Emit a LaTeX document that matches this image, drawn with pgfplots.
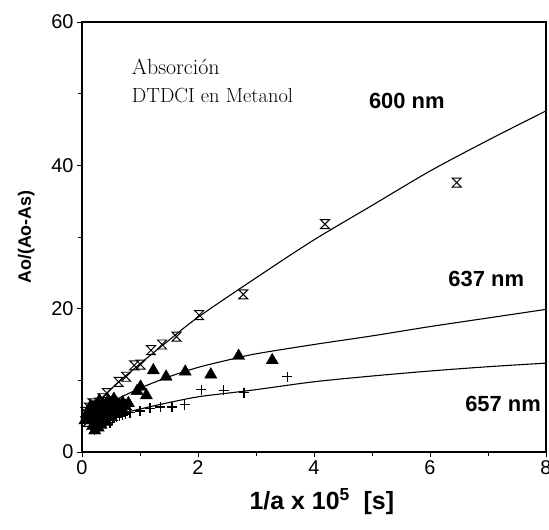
\documentclass[border=0pt]{standalone}
\usepackage{fontspec}
\setsansfont{Liberation Sans}
\usepackage{pgfplots}
\pgfplotsset{compat=1.18}

% open hourglass mark for the 600 nm series
\pgfdeclareplotmark{hourglass}{%
  \pgfpathmoveto{\pgfqpoint{-\pgfplotmarksize}{\pgfplotmarksize}}%
  \pgfpathlineto{\pgfqpoint{\pgfplotmarksize}{\pgfplotmarksize}}%
  \pgfpathlineto{\pgfqpoint{-\pgfplotmarksize}{-\pgfplotmarksize}}%
  \pgfpathlineto{\pgfqpoint{\pgfplotmarksize}{-\pgfplotmarksize}}%
  \pgfpathclose
  \pgfusepathqstroke}

\begin{document}
\begin{tikzpicture}
\useasboundingbox (-82bp,-78bp) rectangle (467bp,452bp);
\begin{axis}[
  at={(0,0)}, anchor=south west,
  scale only axis,
  width=464bp, height=430bp,
  xmin=0, xmax=8, ymin=0, ymax=60,
  xtick={0,2,4,6,8}, minor xtick={1,3,5,7},
  ytick={0,20,40,60}, minor ytick={10,30,50},
  tick pos=left, tick align=outside,
  major tick length=5bp, minor tick length=4bp,
  axis line style={line width=1.3pt},
  every tick/.style={black, line width=1pt},
  tick label style={font=\sffamily\fontsize{20}{20}\selectfont},
  /pgf/number format/assume math mode=true,
  xlabel={\textbf{1/a x 10\textsuperscript{5}\ \ [s]}},
  ylabel={\textbf{Ao/(Ao-As)}},
  xlabel style={font=\sffamily\fontsize{25}{25}\selectfont, at={(axis description cs:0.517,0)}, anchor=center, yshift=-50bp},
  ylabel style={font=\sffamily\fontsize{18}{18}\selectfont, at={(axis description cs:-0.12,0.5)}, anchor=center},
  clip=false,
]
% fitted curves
\addplot[black, line width=1.1pt, smooth] coordinates {
(0,4.6) (0.5,8.8) (1,12.3) (1.5,15.6) (2,18.8) (3,24.3) (4,29.6) (5,34.4) (6,39.2) (7,43.5) (8,47.6)};
\addplot[black, line width=1.1pt, smooth] coordinates {
(0.15,5.9) (0.5,7.0) (1,8.9) (1.5,10.5) (2,11.8) (2.5,12.8) (3,13.7) (4,15.0) (5,16.2) (6,17.5) (7,18.7) (8,19.9)};
\addplot[black, line width=1.1pt, smooth] coordinates {
(0.15,4.2) (0.5,5.0) (1,6.0) (1.5,6.9) (2,7.7) (2.5,8.2) (3,8.7) (4,9.8) (5,10.6) (6,11.3) (7,11.9) (8,12.4)};

% 600 nm
\addplot[only marks, mark=hourglass, mark size=4.5bp, line width=1pt] coordinates {
(6.46,37.6) (4.19,31.8) (2.78,22.0) (2.02,19.1) (1.63,16.1) (1.38,15.0)
(1.19,14.2) (1.01,12.2) (0.90,12.1) (0.76,10.5) (0.63,9.8) (0.43,8.2)
(0.35,7.5) (0.30,6.9) (0.25,6.5) (0.20,6.1) (0.17,5.8) (0.14,5.4)
(0.11,5.1) (0.08,4.8) (0.22,5.3) (0.28,5.8) (0.33,6.2) (0.38,6.6)
(0.12,6.2) (0.18,6.8) (0.06,5.6) (0.10,4.2) (0.16,4.6) (0.24,4.9)};
% 637 nm
\addplot[only marks, mark=triangle*, mark size=7bp, fill=black] coordinates {
(3.28,12.8) (2.70,13.4) (2.22,10.8) (1.78,11.2) (1.45,10.5) (1.23,11.4)
(1.01,9.1) (1.11,7.9) (0.95,8.5)
(0.80,6.8) (0.75,6.4) (0.70,6.9) (0.65,6.5) (0.60,6.8) (0.55,6.3)
(0.50,6.6) (0.45,6.2) (0.40,6.5) (0.35,5.8) (0.30,6.3) (0.25,6.0)
(0.20,5.5) (0.15,5.0) (0.10,4.6) (0.20,4.6) (0.30,5.2) (0.40,5.5)
(0.50,5.0) (0.35,4.5) (0.25,4.0) (0.18,3.6) (0.60,5.6) (0.12,5.6)
(0.22,3.0) (0.28,3.4) (0.33,3.8) (0.42,4.2) (0.08,5.2) (0.05,4.4)
(0.45,7.2) (0.55,7.4) (0.30,7.2) (0.15,6.4) (0.70,5.9) (0.48,5.8)};
% 657 nm
\addplot[only marks, mark=+, mark size=5bp, line width=1.4pt] coordinates {
(3.54,10.5) (2.79,8.3) (2.44,8.6) (2.06,8.7) (1.77,6.6) (1.55,6.3)
(1.35,6.3) (1.17,6.1) (1.00,5.7) (0.83,5.5) (0.65,5.0) (0.53,4.4)
(0.45,4.6) (0.40,4.4) (0.35,4.2) (0.30,4.0) (0.25,3.8) (0.20,3.5)
(0.22,3.1) (0.30,3.4) (0.40,3.9) (0.55,4.8) (0.60,4.9) (0.70,5.1)
(0.75,5.3) (0.48,4.1)};

% annotations
\node[anchor=west, font=\fontsize{22}{22}\selectfont] at (axis cs:0.80,53.8) {Absorción};
\node[anchor=west, font=\fontsize{20.5}{20.5}\selectfont] at (axis cs:0.80,49.8) {DTDCI en Metanol};
\node[font=\sffamily\bfseries\fontsize{22}{22}\selectfont] at (axis cs:5.60,49.0) {600 nm};
\node[font=\sffamily\bfseries\fontsize{22}{22}\selectfont] at (axis cs:6.97,24.1) {637 nm};
\node[font=\sffamily\bfseries\fontsize{22}{22}\selectfont] at (axis cs:7.26,6.7) {657 nm};
\end{axis}
\end{tikzpicture}
\end{document}
